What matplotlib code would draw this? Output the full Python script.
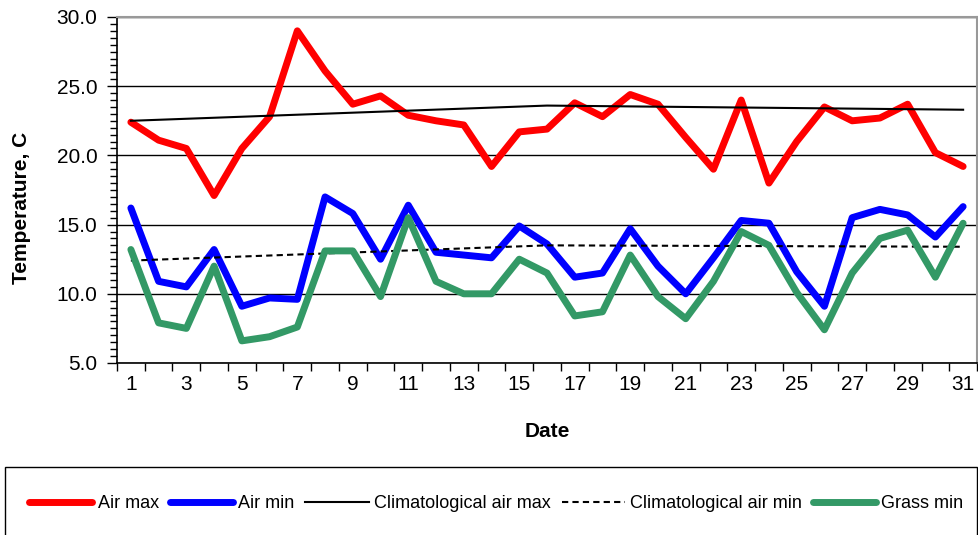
import numpy as np
import matplotlib
matplotlib.use("Agg")
import matplotlib.pyplot as plt
from matplotlib.patches import Rectangle

plt.rcParams['font.family'] = ['Liberation Sans', 'DejaVu Sans']

days = list(range(1, 32))
air_max = [22.4, 21.1, 20.5, 17.1, 20.5, 22.8, 29.0, 26.1, 23.7, 24.3,
           22.9, 22.5, 22.2, 19.2, 21.7, 21.9, 23.8, 22.8, 24.4, 23.7,
           21.3, 19.0, 24.0, 18.0, 21.0, 23.5, 22.5, 22.7, 23.7, 20.2, 19.2]
air_min = [16.2, 10.9, 10.5, 13.2, 9.1, 9.7, 9.6, 17.0, 15.8, 12.5,
           16.4, 13.0, 12.8, 12.6, 14.9, 13.6, 11.2, 11.5, 14.7, 12.0,
           10.0, 12.6, 15.3, 15.1, 11.6, 9.1, 15.5, 16.1, 15.7, 14.1, 16.3]
grass_min = [13.2, 7.9, 7.5, 12.0, 6.6, 6.9, 7.6, 13.1, 13.1, 9.8,
             15.5, 10.9, 10.0, 10.0, 12.5, 11.5, 8.4, 8.7, 12.8, 9.8,
             8.2, 10.9, 14.5, 13.5, 10.1, 7.4, 11.5, 14.0, 14.6, 11.2, 15.1]
clim_days = [1, 16, 31]
clim_max = [22.5, 23.6, 23.3]
clim_min = [12.4, 13.5, 13.4]

fig = plt.figure(figsize=(9.79, 5.35), dpi=100)
ax = fig.add_axes([117/979, 1 - 363/535, (977 - 117)/979, (363 - 17)/535])

ax.plot(days, air_max, color='#FF0000', lw=5, label='Air max', solid_joinstyle='round', solid_capstyle='round')
ax.plot(days, air_min, color='#0000FF', lw=5, label='Air min', solid_joinstyle='round', solid_capstyle='round')
ax.plot(clim_days, clim_max, color='black', lw=1.5, label='Climatological air max')
ax.plot(clim_days, clim_min, color='black', lw=1.5, ls=(0, (3, 2)), label='Climatological air min')
ax.plot(days, grass_min, color='#339966', lw=5, label='Grass min', solid_joinstyle='round', solid_capstyle='round')

ax.set_xlim(0.5, 31.5)
ax.set_ylim(5, 30)
ax.set_yticks(np.arange(5, 31, 5))
ax.set_yticklabels([f"{v:.1f}" for v in np.arange(5, 31, 5)], fontsize=15)
ax.set_yticks(np.arange(5, 30.01, 0.5), minor=True)
ax.yaxis.grid(True, which='major', color='black', lw=1)
ax.set_axisbelow(True)

ax.set_xticks(np.arange(0.5, 32, 1))
ax.set_xticklabels([])
ax.set_xticks(days[::2], minor=True)
ax.set_xticklabels([str(d) for d in days[::2]], minor=True, fontsize=15)
ax.tick_params(axis='x', which='major', length=6, width=1)
ax.tick_params(axis='x', which='minor', length=0, pad=9)
ax.tick_params(axis='y', which='major', length=7, width=1, pad=7)
ax.tick_params(axis='y', which='minor', length=5, width=1)

for s in ['left', 'bottom']:
    ax.spines[s].set_linewidth(1.2)
    ax.spines[s].set_color('black')
for s in ['top', 'right']:
    ax.spines[s].set_linewidth(1.5)
    ax.spines[s].set_color('#999999')

ax.set_xlabel('Date', fontsize=15, fontweight='bold', labelpad=20)
ax.set_ylabel('Temperature, C', fontsize=15, fontweight='bold')
ax.yaxis.set_label_coords(-0.100, 0.448)

fig.patches.append(Rectangle((5/979, -0.01), 972/979, 1 - 467/535 + 0.01,
                             transform=fig.transFigure, fill=False,
                             edgecolor='black', lw=1))
fig.legend(loc='center', bbox_to_anchor=(0.507, 1 - 504/535), ncol=5,
           frameon=False, fontsize=13, handlelength=3.5, handletextpad=0.3,
           columnspacing=0.6)

fig.savefig('out.png', dpi=100)
